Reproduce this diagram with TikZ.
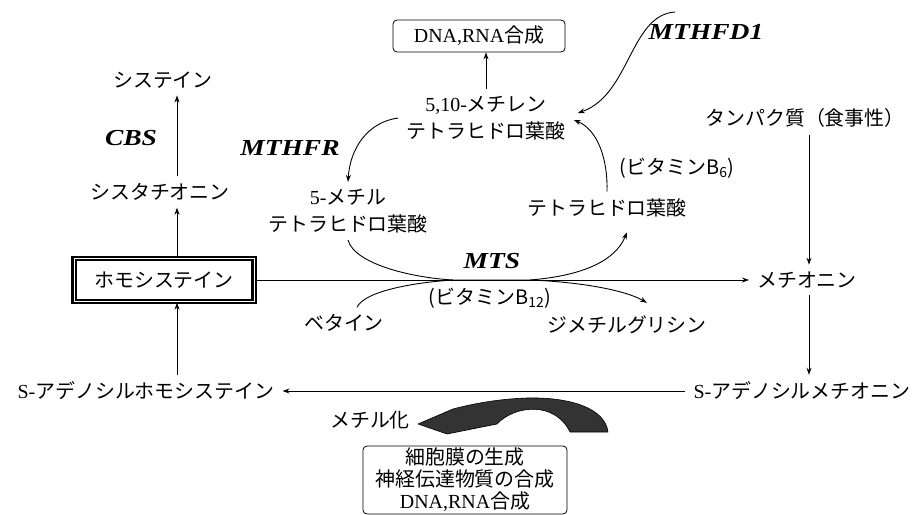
\documentclass[tikz,border=0pt]{standalone}
\usepackage{fontspec}
\setmainfont{Liberation Serif}
\newfontfamily\jp{Noto Sans CJK JP}
\newfontfamily\enzfont[FakeStretch=1.2]{Liberation Serif}
\usetikzlibrary{positioning,calc,arrows.meta}
\newcommand{\latn}[1]{{\rmfamily #1}}
\tikzset{
    lbl/.style={font=\jp\fontsize{20}{27}\selectfont,align=center,inner xsep=8pt,inner ysep=7pt},
    enzyme/.style={font=\enzfont\bfseries\itshape\fontsize{23}{26}\selectfont,inner sep=1pt},
    pathway/.style={line width=0.9pt,-{Stealth[length=7pt,width=5pt]}},
    infobox/.style={lbl,draw=black,rounded corners=4pt,line width=0.8pt,inner sep=1pt},
}

\begin{document}
\begin{tikzpicture}[x=1bp,y=-1bp]
        \useasboundingbox (0,0) rectangle (921,515);

        \node[infobox,minimum width=172bp,minimum height=32bp] (dna-top) at (479,36) {\latn{DNA,RNA}合成};
        \node[lbl] (methylene-thf) at (486,118) {\latn{5,10-}メチレン\\テトラヒドロ葉酸};
        \node[enzyme] (mthfr) at (290,148) {MTHFR};
        \node[enzyme] (mthfd1) at (706,32) {MTHFD1};
        \node[lbl] (methyl-thf) at (348,211) {\latn{5-}メチル\\テトラヒドロ葉酸};
        \node[lbl] (thf) at (607,208) {テトラヒドロ葉酸};
        \node[lbl] (vit-b6) at (677,168) {(ビタミンB\textsubscript{6})};
        \node[enzyme] (mts) at (492,261) {MTS};
        \node[lbl] (vit-b12) at (490,298) {(ビタミンB\textsubscript{12})};
        \node[lbl] (betaine) at (344,323) {ベタイン};
        \node[lbl] (dmg) at (627,325) {ジメチルグリシン};

        \node[lbl] (cys) at (163,80) {システイン};
        \node[enzyme] (cbs) at (131,138) {CBS};
        \node[lbl] (cysta) at (160,192) {シスタチオニン};
        \node[lbl,draw=black,line width=2.4pt,double,double distance=0.5pt,inner sep=2pt,minimum width=180bp,minimum height=43bp] (hcy) at (164,280) {ホモシステイン};
        \node[lbl] (sah) at (146,391) {\latn{S-}アデノシルホモシステイン};

        \node[lbl] (protein) at (805,118) {タンパク質（食事性）};
        \node[lbl] (met) at (807,280) {メチオニン};
        \node[lbl] (sam) at (802,391) {\latn{S-}アデノシルメチオニン};

        \node[lbl] (methylation) at (370,420) {メチル化};
        \node[infobox,font=\jp\fontsize{20}{22}\selectfont,minimum width=204bp,minimum height=68bp] (dna-bottom) at (465,480) {細胞膜の生成\\神経伝達物質の合成\\\latn{DNA,RNA}合成};

        \coordinate (lcol) at (177,0);
        \coordinate (rcol) at (809,0);
        \coordinate (mts-in) at (453,280);
        \coordinate (mts-out) at (530,280);
        \coordinate (mthfd1-start) at (675,12);

        \draw[pathway] (cysta.north -| lcol) -- (cys.south -| lcol);
        \draw[pathway] (hcy.north -| lcol) -- (cysta.south -| lcol);
        \draw[pathway] (sah.north -| lcol) -- (hcy.south -| lcol);
        \draw[pathway] (protein.south -| rcol) -- (met.north -| rcol);
        \draw[pathway] (met.south -| rcol) -- (sam.north -| rcol);
        \draw[pathway] (sam.west) -- (sah.east);
        \draw[pathway] (hcy.east) -- (met.west);
        \draw[pathway] (methylene-thf.north) -- (methylene-thf.north |- dna-top.south);

        \draw[pathway] (methylene-thf.west) .. controls (368,122) and (350,148) .. (methyl-thf.north);
        \draw[pathway] (thf.north) .. controls (608,160) and (598,130) .. ([yshift=-2pt]methylene-thf.east);
        \draw[pathway] (mthfd1-start) .. controls (630,15) and (630,95) .. ([xshift=4pt,yshift=5pt]methylene-thf.east);

        \draw[line width=0.9pt] (methyl-thf.south) .. controls (355,265) and (415,278) .. (mts-in) -- (mts-out);
        \draw[line width=0.9pt] ([xshift=13pt]betaine.north) .. controls (365,290) and (420,282) .. (mts-in);
        \draw[pathway] (mts-out) .. controls (580,276) and (615,262) .. ([xshift=20pt,yshift=-8pt]thf.south);
        \draw[pathway] (mts-out) .. controls (580,282) and (625,290) .. ([xshift=20pt,yshift=6pt]dmg.north);

        \filldraw[fill=black!80,draw=black,line width=0.6pt,line join=round] (418,424) -- (447,434) -- (497,424) .. controls (515,405) and (555,401) .. (570,432) -- (608,432) .. controls (605,408) and (570,397) .. (527,398) .. controls (497,399) and (472,404) .. (453,409) -- (418,424) -- cycle;
\end{tikzpicture}
\end{document}
